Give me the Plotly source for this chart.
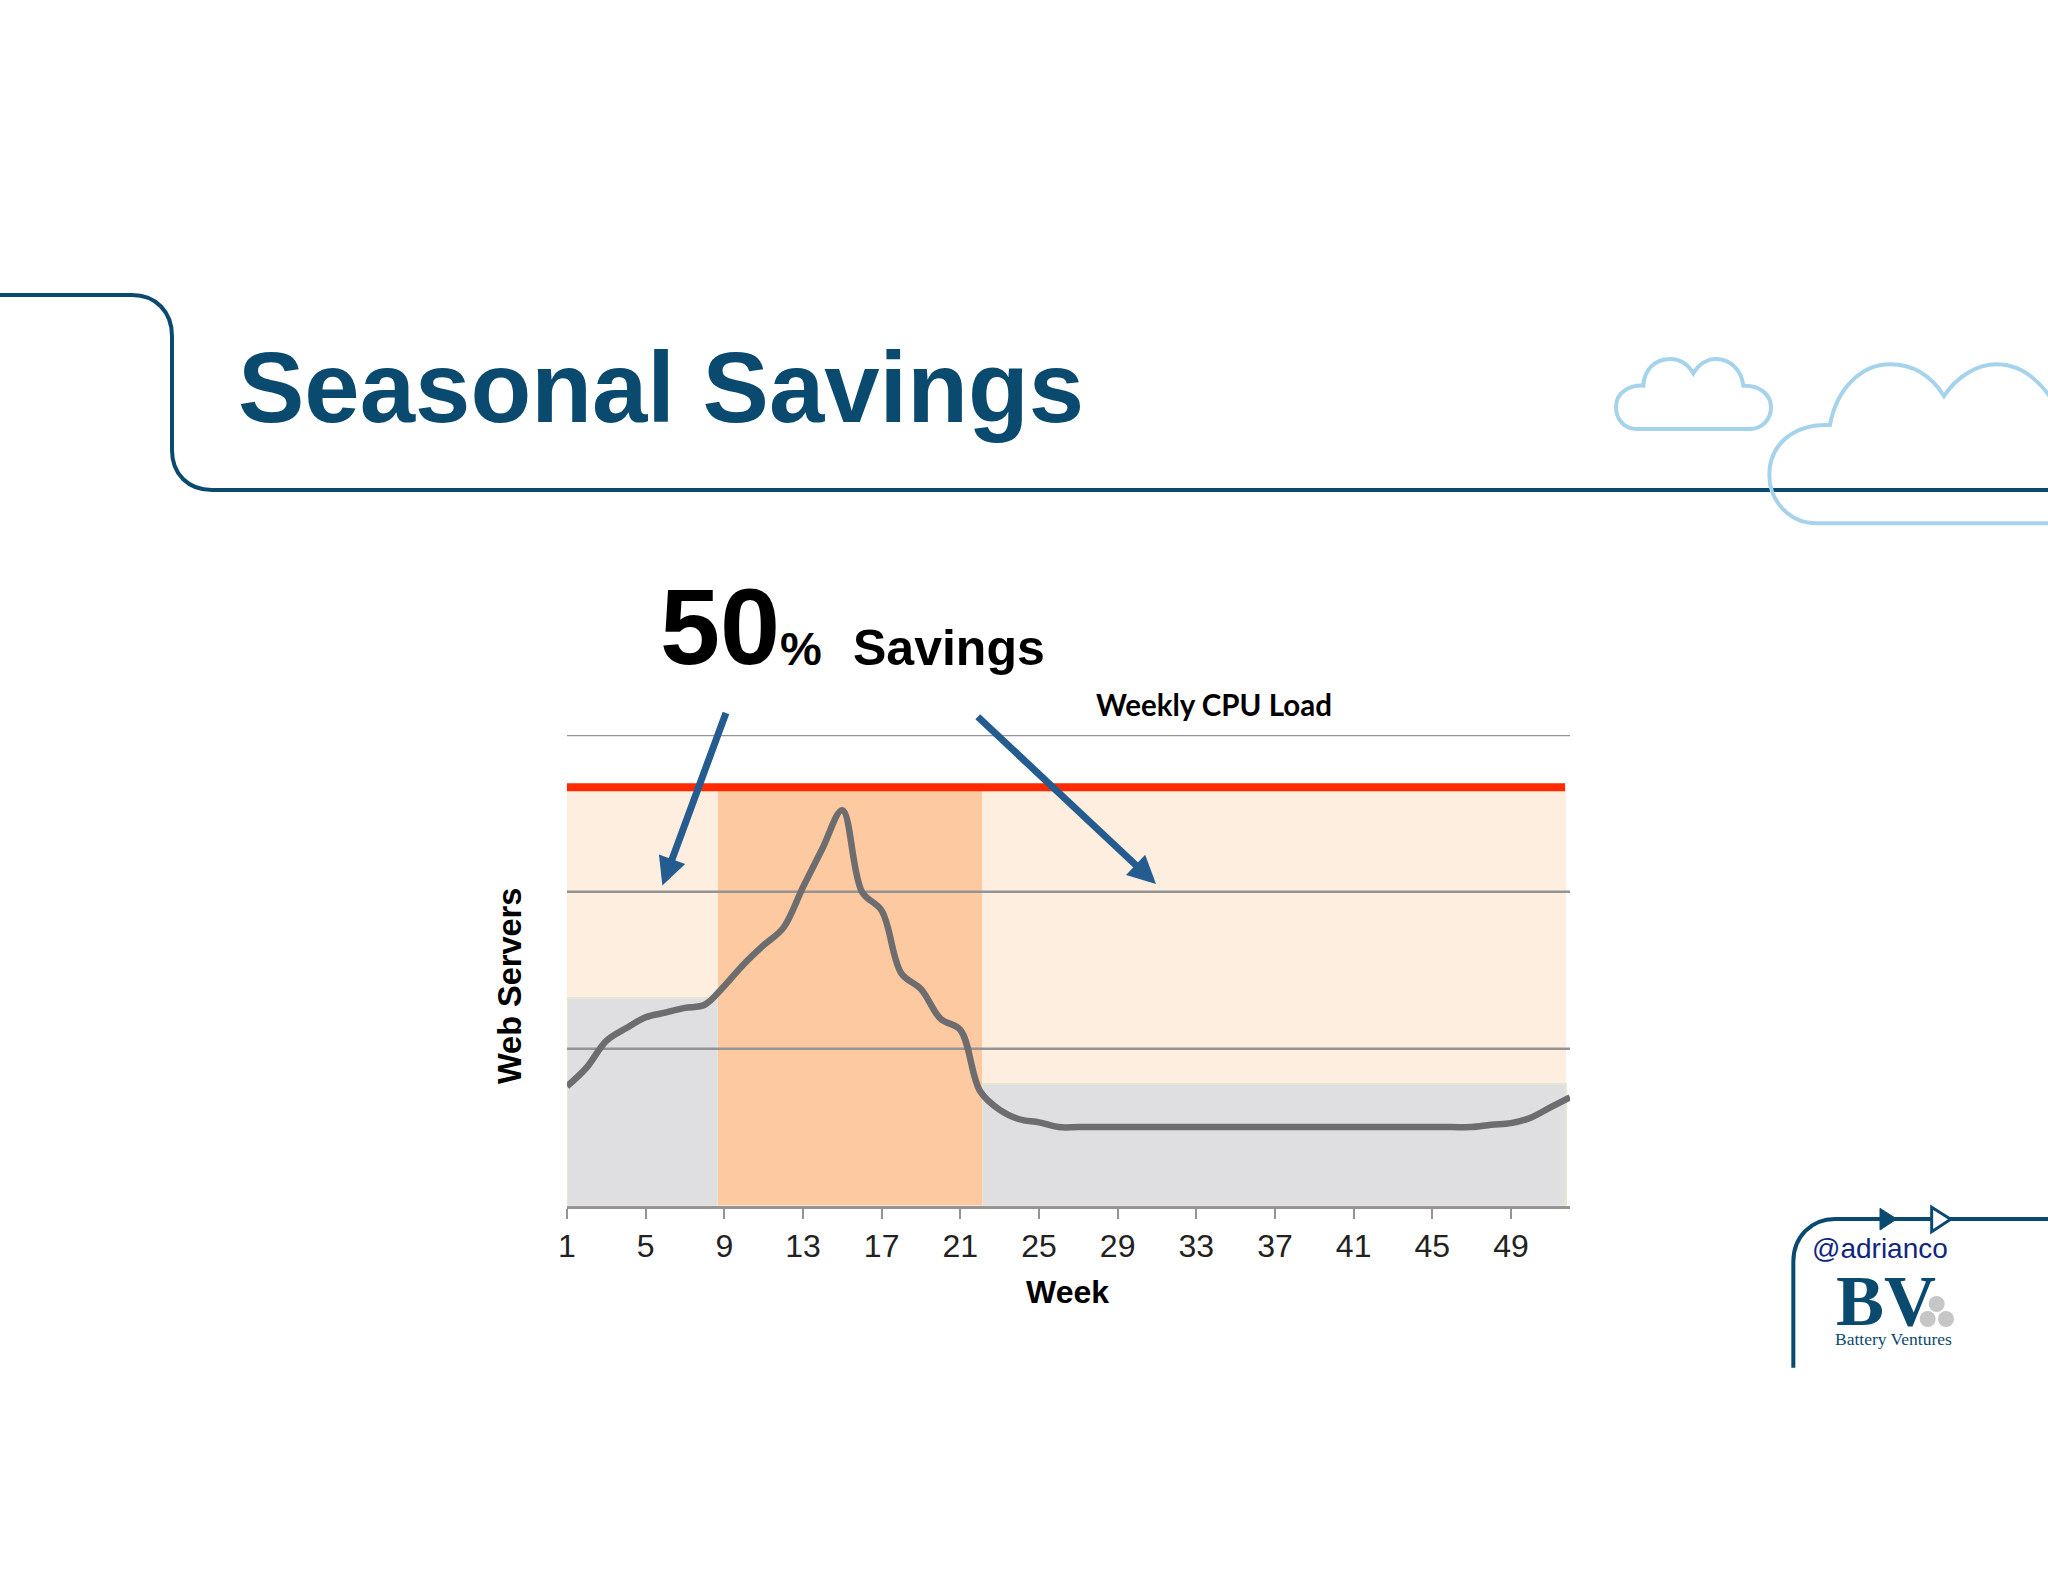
import plotly.graph_objects as go

# page size of the slide
W = 2048
H = 1582

# chart values
weeks = list(range(1, 53))
cpu_load = [0.76, 0.88, 1.05, 1.13, 1.20, 1.23, 1.26, 1.28, 1.40, 1.54,
            1.66, 1.77, 2.03, 2.28, 2.52, 2.00, 1.88, 1.48, 1.38, 1.19,
            1.12, 0.73, 0.61, 0.55, 0.53, 0.50, 0.50, 0.50, 0.50, 0.50,
            0.50, 0.50, 0.50, 0.50, 0.50, 0.50, 0.50, 0.50, 0.50, 0.50,
            0.50, 0.50, 0.50, 0.50, 0.50, 0.50, 0.50, 0.515, 0.525, 0.56,
            0.625, 0.69]
tick_weeks = [1, 5, 9, 13, 17, 21, 25, 29, 33, 37, 41, 45, 49]
grid_levels = [1, 2, 3]

limit_level = 2.667
limit_end = 51.75

# shaded blocks: start week, end week, top
saved_start = [1]
saved_end = [51.8]
saved_top = [2.65]

used_start = [1, 22.08]
used_end = [8.68, 51.8]
used_top = [1.325, 0.775]

peak_start = [8.68]
peak_end = [22.08]
peak_top = [2.65]

# arrows: tail week/level, head week/level
arrow_tail_week = [9.11, 21.81]
arrow_tail_level = [3.15, 3.125]
arrow_head_week = [5.85, 30.95]
arrow_head_level = [2.04, 2.05]

NAVY = "#0b4a6f"
CLOUD = "#a6d3ec"


def px(x):
    return x / W


def py(y):
    return 1 - y / H


def path(points):
    # points are command + pixel pairs
    out = []
    for cmd, *coords in points:
        vals = []
        for i in range(0, len(coords), 2):
            vals.append(f"{px(coords[i]):.5f},{py(coords[i + 1]):.5f}")
        out.append(cmd + " ".join(vals))
    return " ".join(out)


def zoom_cloud(x, y):
    # cloud outlines were measured on a 3x crop at (1580, 330)
    return 1580 + x / 3, 330 + y / 3


def cloud_path(points):
    converted = []
    for cmd, *coords in points:
        row = [cmd]
        for i in range(0, len(coords), 2):
            row.extend(zoom_cloud(coords[i], coords[i + 1]))
        converted.append(row)
    return path(converted)


def logo(x, y):
    return 1760 + x / 3, 1180 + y / 3


def bars(start, end, top, color, line=None):
    return go.Bar(
        x=[(a + b) / 2 for a, b in zip(start, end)],
        y=top,
        width=[b - a for a, b in zip(start, end)],
        marker=dict(color=color, line=dict(color=line or color, width=2 if line else 0)),
        hoverinfo="skip",
    )


fig = go.Figure()
fig.add_trace(bars(saved_start, saved_end, saved_top, "#fdeee0"))
fig.add_trace(bars(used_start, used_end, used_top, "#dfdfe2", line="#e6e6d2"))
fig.add_trace(bars(peak_start, peak_end, peak_top, "#fcc9a1"))

for level in grid_levels:
    fig.add_trace(go.Scatter(x=[weeks[0], weeks[-1]], y=[level, level], mode="lines", cliponaxis=False,
                             line=dict(color="#949494", width=2.5), hoverinfo="skip"))

fig.add_trace(go.Scatter(x=[weeks[0], limit_end], y=[limit_level, limit_level], mode="lines",
                         line=dict(color="#ff2a00", width=8), hoverinfo="skip"))
fig.add_trace(go.Scatter(x=weeks, y=cpu_load, mode="lines", cliponaxis=False,
                         line=dict(color="#6d6d6f", width=6.5, shape="spline", smoothing=1),
                         name="Weekly CPU Load"))

shapes = [
    # header rule
    dict(type="path", xref="paper", yref="paper", line=dict(color=NAVY, width=4),
         path=path([("M", 0, 295), ("L", 132, 295), ("C", 156, 295, 172, 312, 172, 336),
                    ("L", 172, 450), ("C", 172, 474, 188, 490, 212, 490), ("L", 2048, 490)])),
    # small cloud
    dict(type="path", xref="paper", yref="paper", line=dict(color=CLOUD, width=4),
         path=cloud_path([("M", 170, 297), ("L", 510, 297), ("C", 545, 297, 573, 270, 573, 232),
                          ("C", 573, 195, 540, 165, 490, 167), ("C", 485, 120, 450, 87, 408, 87),
                          ("C", 380, 87, 355, 105, 340, 130), ("C", 325, 105, 300, 87, 270, 87),
                          ("C", 225, 87, 192, 120, 190, 167), ("C", 145, 165, 108, 190, 108, 230),
                          ("C", 108, 270, 135, 297, 170, 297)])),
    # big cloud, runs off the page
    dict(type="path", xref="paper", yref="paper", line=dict(color=CLOUD, width=4),
         path=cloud_path([("M", 1420, 580), ("L", 710, 580), ("C", 630, 580, 568, 515, 568, 435),
                          ("C", 568, 345, 640, 280, 750, 285), ("C", 770, 175, 845, 103, 930, 103),
                          ("C", 1000, 103, 1055, 140, 1092, 198), ("C", 1130, 140, 1190, 103, 1250, 103),
                          ("C", 1320, 103, 1375, 145, 1420, 215)])),
    # logo rule
    dict(type="path", xref="paper", yref="paper", line=dict(color=NAVY, width=4),
         path=path([("M", *logo(100, 563)), ("L", *logo(100, 245)),
                    ("C", *logo(100, 170), *logo(155, 117), *logo(225, 117)), ("L", 2048, logo(0, 117)[1])])),
    dict(type="path", xref="paper", yref="paper", fillcolor=NAVY, line=dict(color=NAVY, width=1),
         path=path([("M", *logo(360, 85)), ("L", *logo(410, 117)), ("L", *logo(360, 150)), ("Z",)])),
    dict(type="path", xref="paper", yref="paper", fillcolor="white", line=dict(color=NAVY, width=3),
         path=path([("M", *logo(515, 82)), ("L", *logo(572, 118)), ("L", *logo(515, 155)), ("Z",)])),
]

# the three grey dots in the logo
for cx, cy in [(530, 372), (503, 417), (558, 417)]:
    x0, y0 = logo(cx - 24, cy - 24)
    x1, y1 = logo(cx + 24, cy + 24)
    shapes.append(dict(type="circle", xref="paper", yref="paper", fillcolor="#c6c6c6", line=dict(width=0),
                       x0=px(x0), x1=px(x1), y0=py(y0), y1=py(y1)))


def label(text, x, y, size, color="black", family="Liberation Sans", anchor="left", angle=0):
    return dict(text=text, x=px(x), y=py(y), xref="paper", yref="paper", showarrow=False,
                xanchor=anchor, yanchor="middle", textangle=angle,
                font=dict(family=family, size=size, color=color))


annotations = [
    label("<b>Seasonal Savings</b>", 236, 387, 99.5, color=NAVY),
    label("<b>50</b>", 658, 627, 108),
    label("<b>%</b>", 778, 648, 47),
    label("<b>Savings</b>", 851, 648, 50),
    label("<b>Weekly CPU Load</b>", 1094, 704, 29.5, family="Lato"),
    label("<b>Web Servers</b>", 510, 986, 32.5, anchor="center", angle=-90),
    label("<b>Week</b>", 1067, 1292, 32, anchor="center"),
    label("@adrianco", 1810, 1248, 28, color="#10267e"),
    label("<b>BV</b>", 1834, 1301, 72, color=NAVY, family="Liberation Serif"),
    label("Battery Ventures", 1833, 1339, 17.5, color=NAVY, family="Liberation Serif"),
]

for tx, ty, hx, hy in zip(arrow_tail_week, arrow_tail_level, arrow_head_week, arrow_head_level):
    annotations.append(dict(x=hx, y=hy, ax=tx, ay=ty, xref="x", yref="y", axref="x", ayref="y",
                            text="", showarrow=True, arrowhead=2, arrowsize=0.8, arrowwidth=7,
                            arrowcolor="#255c8f"))

fig.update_layout(
    width=W,
    height=H,
    autosize=False,
    margin=dict(l=0, r=0, t=0, b=0),
    paper_bgcolor="white",
    plot_bgcolor="rgba(0,0,0,0)",
    barmode="overlay",
    bargap=0,
    showlegend=False,
    shapes=shapes,
    annotations=annotations,
    font=dict(family="Liberation Sans", color="#222222"),
)
fig.update_xaxes(
    automargin=False,
    domain=[px(567), px(1570)],
    range=[weeks[0], weeks[-1]],
    tickmode="array",
    tickvals=tick_weeks,
    ticktext=[str(w) for w in tick_weeks],
    ticks="outside",
    ticklen=10,
    tickwidth=2,
    tickcolor="#949494",
    showline=True,
    linecolor="#949494",
    linewidth=3,
    showgrid=False,
    zeroline=False,
    tickfont=dict(size=32, color="#222222"),
)
fig.update_yaxes(
    automargin=False,
    domain=[py(1205.5), py(735)],
    range=[0, 3],
    showticklabels=False,
    showgrid=False,
    zeroline=False,
    showline=False,
    ticks="",
)

# plotly's page keeps the browser's default body margin, drop it so the slide fills the window
fig.write_html("out.html", config={"displayModeBar": False},
               post_script="document.body.style.margin = '0';")
